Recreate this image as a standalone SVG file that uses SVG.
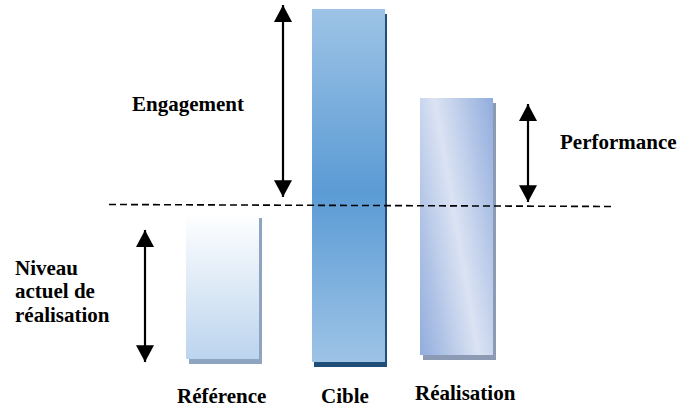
<svg xmlns="http://www.w3.org/2000/svg" width="695" height="409" viewBox="0 0 695 409">
  <style>
    .lbl { font-family: 'Liberation Serif', 'Times New Roman', 'DejaVu Serif', serif; font-weight: bold; font-size: 21px; fill: #000; }
    .arrow { stroke: #000; stroke-width: 2.2; fill: none; marker-start: url(#head); marker-end: url(#head); }
    .dash { stroke: #000; stroke-width: 1.6; stroke-dasharray: 7 4; fill: none; }
  </style>
  <defs>
    <linearGradient id="gRef" x1="0" y1="0" x2="0" y2="1">
      <stop offset="0" stop-color="#ffffff"/>
      <stop offset="1" stop-color="#bcd4ee"/>
    </linearGradient>
    <linearGradient id="gCible" x1="0" y1="0" x2="0" y2="1">
      <stop offset="0" stop-color="#9dc3e6"/>
      <stop offset="0.52" stop-color="#5b9bd5"/>
      <stop offset="1" stop-color="#9dc3e6"/>
    </linearGradient>
    <linearGradient id="gReal" gradientUnits="userSpaceOnUse" x1="397" y1="236.8" x2="516" y2="216.2">
      <stop offset="0" stop-color="#8eaadc"/>
      <stop offset="0.5" stop-color="#dbe3f3"/>
      <stop offset="1" stop-color="#8eaadc"/>
    </linearGradient>
    <marker id="head" markerUnits="userSpaceOnUse" markerWidth="18" markerHeight="18" refX="15" refY="8" orient="auto-start-reverse" viewBox="0 0 16 16">
      <path d="M0,0 L15,8 L0,16 Z" fill="#000"/>
    </marker>
  </defs>

  <g id="bar-reference">
    <rect x="189" y="218" width="73" height="146" fill="#8fa5bf"/>
    <rect x="186" y="213" width="73" height="146" fill="url(#gRef)"/>
  </g>
  <g id="bar-cible">
    <rect x="314" y="14" width="73" height="353" fill="#1f4e79"/>
    <rect x="312" y="9" width="73" height="353" fill="url(#gCible)"/>
  </g>
  <g id="bar-realisation">
    <rect x="423" y="103" width="73" height="257" fill="#8c9ab3"/>
    <rect x="420" y="98" width="73" height="257" fill="url(#gReal)"/>
  </g>

  <g id="connectors">
    <line class="dash" x1="109" y1="204.5" x2="615" y2="206.5"/>
    <line class="arrow" x1="283" y1="5" x2="283" y2="197"/>
    <line class="arrow" x1="528" y1="104" x2="528" y2="202"/>
    <line class="arrow" x1="145" y1="230" x2="145" y2="362"/>
  </g>

  <g id="label-engagement" class="lbl"><text x="132" y="111">Engagement</text></g>
  <g id="label-performance" class="lbl"><text x="560" y="149">Performance</text></g>
  <g id="label-niveau" class="lbl">
    <text x="15" y="275">Niveau</text>
    <text x="15" y="298">actuel de</text>
    <text x="15" y="322">réalisation</text>
  </g>
  <g id="label-reference" class="lbl"><text x="177" y="403">Référence</text></g>
  <g id="label-cible" class="lbl"><text x="321" y="403">Cible</text></g>
  <g id="label-realisation" class="lbl"><text x="415" y="400">Réalisation</text></g>
</svg>
